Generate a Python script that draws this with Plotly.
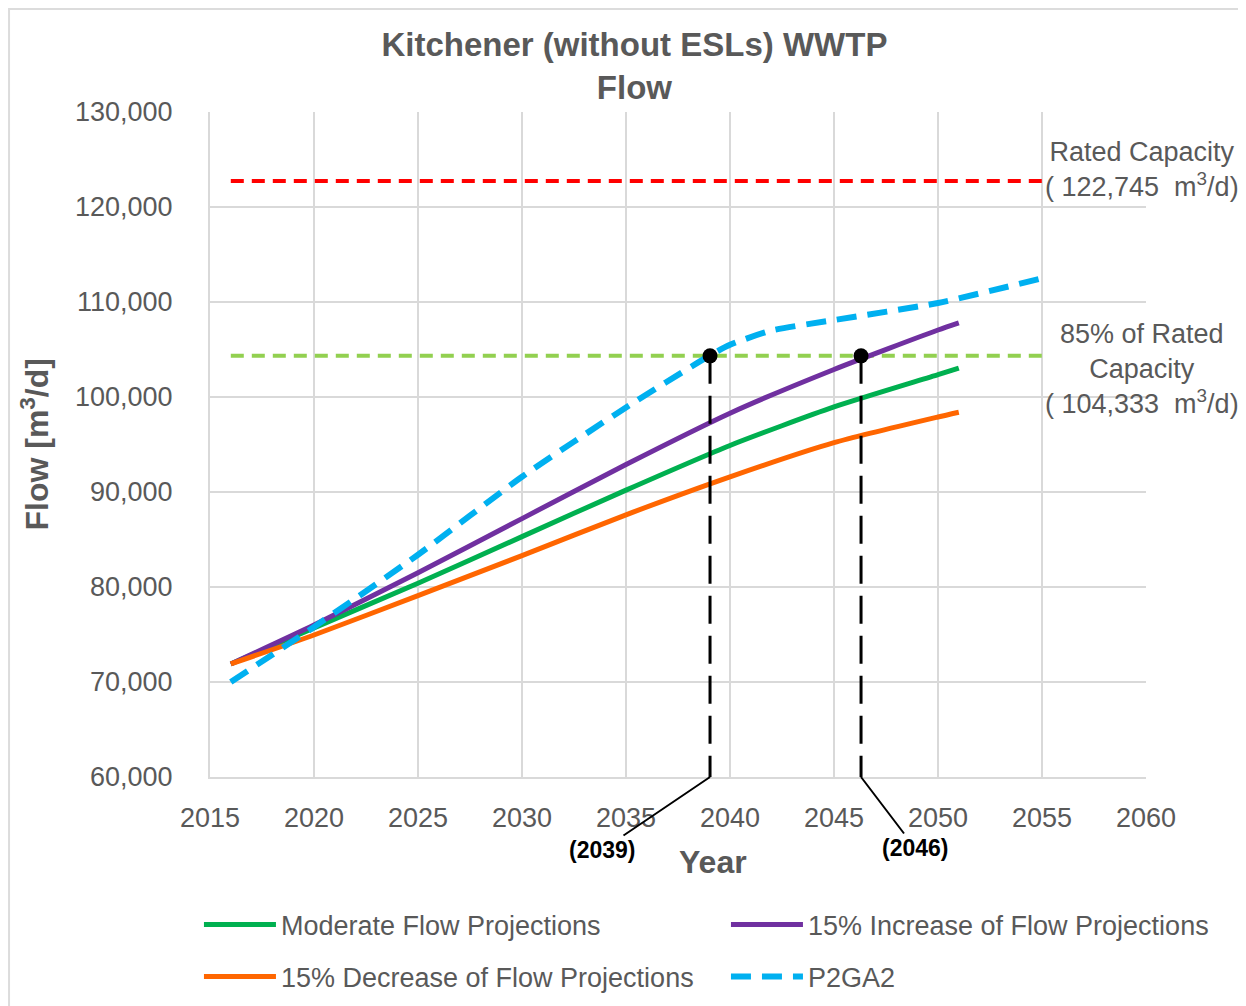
import plotly.graph_objects as go

# ---------------- data ----------------
years_proj = [2016, 2020, 2025, 2030, 2035, 2040, 2045, 2050, 2051]
moderate = [71900, 75700, 80400, 85300, 90200, 94900, 98950, 102350, 103050]
increase15 = [71900, 76000, 81500, 87200, 92900, 98300, 102900, 107050, 107800]
decrease15 = [71900, 74950, 79100, 83300, 87600, 91600, 95200, 97900, 98400]

years_p2ga2 = [2016, 2020, 2025, 2030, 2035, 2039, 2040, 2042, 2045, 2050, 2055]
p2ga2 = [70000, 75800, 83400, 91600, 98900, 104333, 105500, 107000, 108100, 109900, 112500]

cap_years = [2016, 2055]
rated_capacity = 122745
capacity_85 = 104333

cross_years = [2039.04, 2046.3]
cross_labels = ["(2039)", "(2046)"]

series_names = ["Moderate Flow Projections", "15% Increase of Flow Projections",
                "15% Decrease of Flow Projections", "P2GA2"]

x_ticks = list(range(2015, 2061, 5))
y_ticks = list(range(60000, 130001, 10000))

# ---------------- styling ----------------
FONT = "Liberation Sans, Arial, sans-serif"
GREY = "#595959"
GRID = "#d9d9d9"

fig = go.Figure()

# capacity lines
fig.add_trace(go.Scatter(x=cap_years, y=[rated_capacity] * 2, mode="lines",
                         line=dict(color="#ff0000", width=4, dash="13px,8px"),
                         showlegend=False, hoverinfo="skip"))
fig.add_trace(go.Scatter(x=cap_years, y=[capacity_85] * 2, mode="lines",
                         line=dict(color="#92d050", width=4, dash="13px,8px"),
                         showlegend=False, hoverinfo="skip"))

# projections
fig.add_trace(go.Scatter(x=years_proj, y=moderate, mode="lines", name=series_names[0],
                         legend="legend",
                         line=dict(color="#00b050", width=5, shape="spline", smoothing=0.6)))
fig.add_trace(go.Scatter(x=years_proj, y=increase15, mode="lines", name=series_names[1],
                         legend="legend",
                         line=dict(color="#7030a0", width=5, shape="spline", smoothing=0.6)))
fig.add_trace(go.Scatter(x=years_proj, y=decrease15, mode="lines", name=series_names[2],
                         legend="legend2",
                         line=dict(color="#ff6600", width=5, shape="spline", smoothing=0.6)))
fig.add_trace(go.Scatter(x=years_p2ga2, y=p2ga2, mode="lines", name=series_names[3],
                         legend="legend2",
                         line=dict(color="#00b0f0", width=6, dash="20px,11px", shape="spline", smoothing=0.6)))

# crossing markers and vertical drop lines
for cy in cross_years:
    fig.add_trace(go.Scatter(x=[cy, cy], y=[capacity_85, 60000], mode="lines",
                             line=dict(color="black", width=3, dash="28px,12px"),
                             showlegend=False, hoverinfo="skip"))
fig.add_trace(go.Scatter(x=cross_years, y=[capacity_85] * 2, mode="markers",
                         marker=dict(color="black", size=15),
                         showlegend=False, hoverinfo="skip"))

# labels for crossing years with leader lines
offsets = [(-108, 73), (54, 71)]
for cy, lab, (ax, ay) in zip(cross_years, cross_labels, offsets):
    fig.add_annotation(x=cy, y=60000, xref="x", yref="y", text="<b>" + lab + "</b>",
                       showarrow=True, arrowhead=0, arrowwidth=2, arrowcolor="black",
                       ax=ax, ay=ay, font=dict(family=FONT, size=23, color="black"))

# right-side capacity labels
fig.add_annotation(x=2059.8, y=rated_capacity, xref="x", yref="y", yshift=11,
                   text="Rated Capacity<br>( 122,745  m<sup>3</sup>/d)", showarrow=False,
                   xanchor="center", yanchor="middle",
                   font=dict(family=FONT, size=27, color=GREY))
fig.add_annotation(x=2059.8, y=capacity_85, xref="x", yref="y", yshift=-13,
                   text="85% of Rated<br>Capacity<br>( 104,333  m<sup>3</sup>/d)", showarrow=False,
                   xanchor="center", yanchor="middle",
                   font=dict(family=FONT, size=27, color=GREY))

# axis titles
fig.add_annotation(x=2039.2, y=-0.128, xref="x", yref="paper", text="<b>Year</b>",
                   showarrow=False, yanchor="middle",
                   font=dict(family=FONT, size=32, color=GREY))
fig.add_annotation(x=-0.188, y=0.5, xref="paper", yref="paper", text="<b>Flow [m<sup>3</sup>/d]</b>",
                   showarrow=False, textangle=-90, xanchor="center", yanchor="middle",
                   font=dict(family=FONT, size=32, color=GREY))

# outer border (chart frame)
fig.add_shape(type="rect", xref="paper", yref="paper", x0=-0.2147, x1=1.1058, y0=-0.4, y1=1.1549,
              line=dict(color="#dcdcdc", width=2), layer="below")

legend_common = dict(orientation="h", xanchor="left", yanchor="middle",
                     entrywidth=440, entrywidthmode="pixels", itemwidth=72,
                     bgcolor="rgba(0,0,0,0)",
                     font=dict(family=FONT, size=27, color=GREY))

fig.update_layout(
    width=1238, height=998,
    margin=dict(l=202, r=100, t=104, b=229, autoexpand=False),
    paper_bgcolor="white", plot_bgcolor="white",
    title=dict(text="<b>Kitchener (without ESLs) WWTP<br>Flow</b>", x=0.506, xanchor="center",
               y=0.952, yanchor="top",
               font=dict(family=FONT, size=33, color=GREY)),
    xaxis=dict(range=[2015, 2060], tickvals=x_ticks, showgrid=True, gridcolor=GRID, gridwidth=2,
               zeroline=False, showline=True, linecolor=GRID, linewidth=2, mirror=False,
               ticks="", ticklabelstandoff=16,
               tickfont=dict(family=FONT, size=27, color=GREY)),
    yaxis=dict(range=[60000, 130000], tickvals=y_ticks, tickformat=",", showgrid=True,
               gridcolor=GRID, gridwidth=2, zeroline=False, showline=True, linecolor=GRID,
               linewidth=2, ticks="", ticklabelstandoff=30,
               tickfont=dict(family=FONT, size=27, color=GREY)),
    legend=dict(x=-0.0118, y=-0.2226, **legend_common),
    legend2=dict(x=-0.0118, y=-0.3008, **legend_common),
    showlegend=True,
)

fig.write_html("out.html")
